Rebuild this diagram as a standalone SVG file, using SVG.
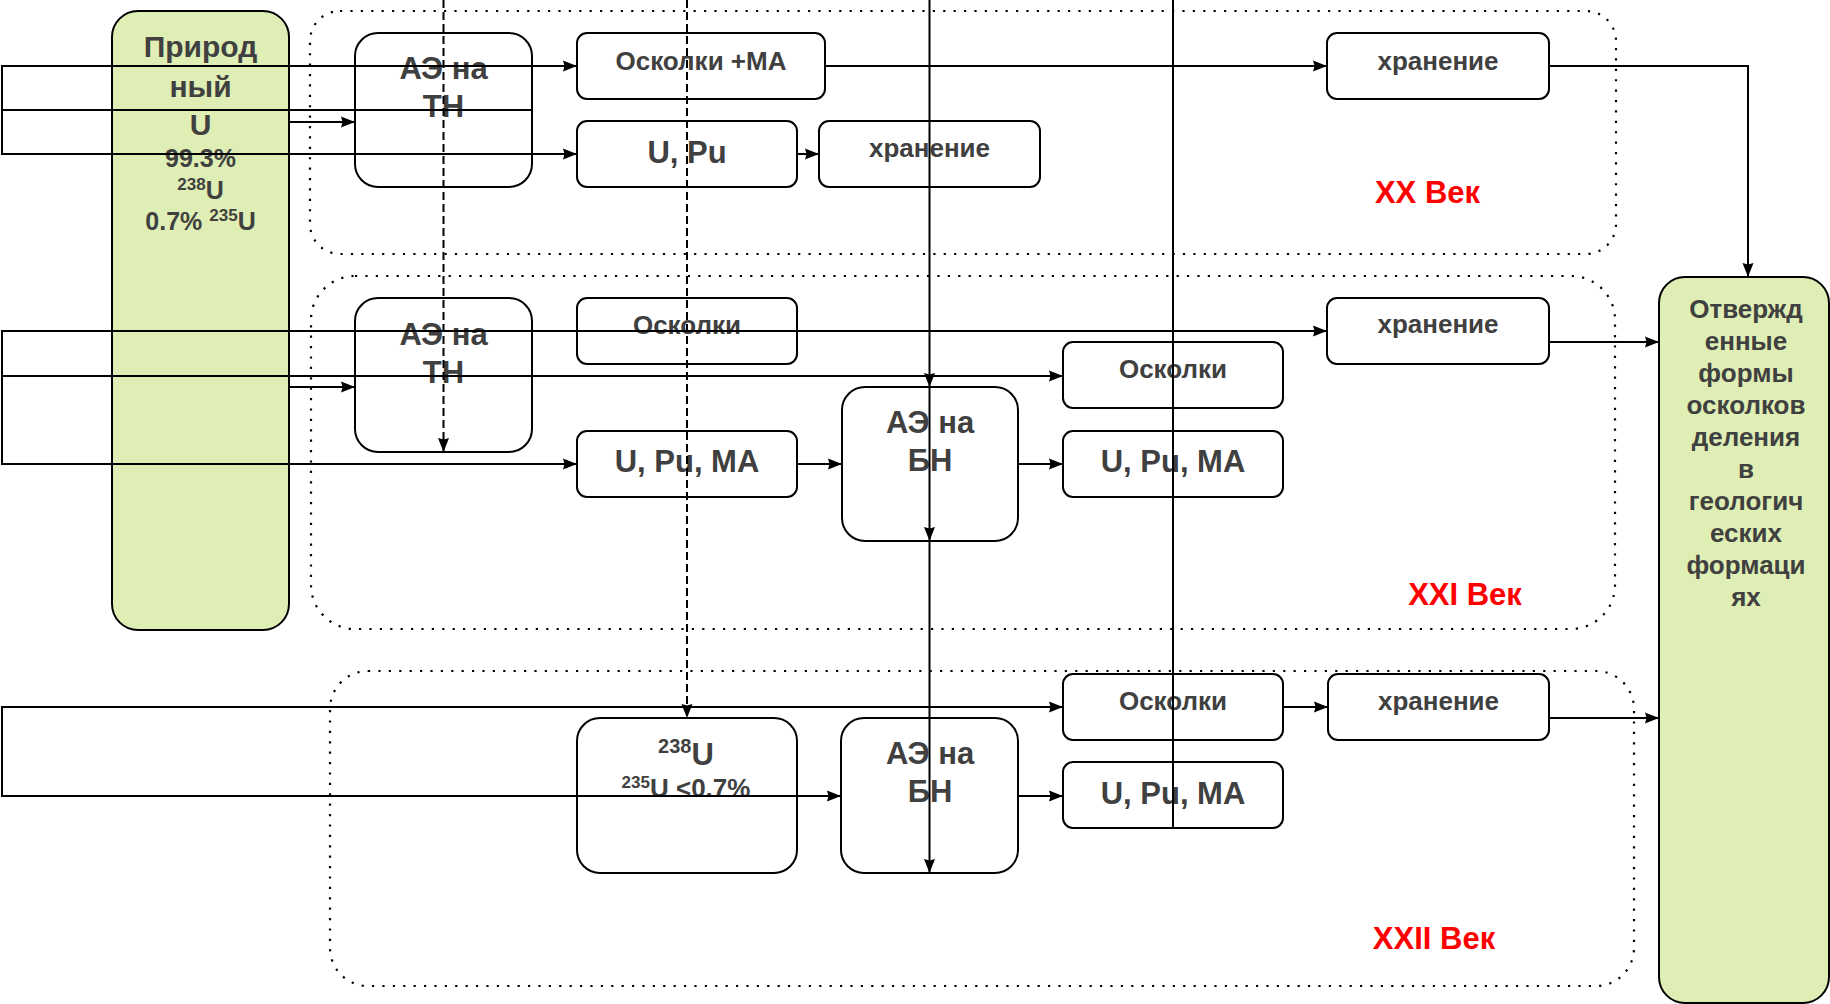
<svg xmlns="http://www.w3.org/2000/svg" width="1830" height="1004" viewBox="0 0 1830 1004">
<defs>
<style>
.bg{fill:#ffffff}
.cont{fill:none;stroke:#000;stroke-width:2.2;stroke-dasharray:2.2 8.2}
.box{fill:#ffffff;stroke:#000;stroke-width:2}
.green{fill:#dfeeb4;stroke:#000;stroke-width:2}
.t{font-family:"Liberation Sans",Arial,sans-serif;font-weight:bold;fill:#404040;text-anchor:middle}
.s26{font-size:26px}
.s31{font-size:31px}
.s30{font-size:30px}
.s25{font-size:25px}
.red{font-family:"Liberation Sans",Arial,sans-serif;font-weight:bold;fill:#ff0000;font-size:31px;text-anchor:middle}
.e{fill:none;stroke:#000;stroke-width:2}
.d{fill:none;stroke:#000;stroke-width:2;stroke-dasharray:8 4}
</style>
<marker id="arr" markerUnits="userSpaceOnUse" markerWidth="15" markerHeight="12" refX="14" refY="5.5" orient="auto" viewBox="0 0 15 11">
<path d="M0,0 L14,5.5 L0,11 L1.5,5.5 Z" fill="#000"/>
</marker>
</defs>
<rect class="bg" x="0" y="0" width="1830" height="1004"/>

<g id="containers">
<rect id="c-xx" class="cont" x="310" y="11" width="1306" height="243" rx="30" ry="30"/>
<rect id="c-xxi" class="cont" x="311" y="276" width="1304" height="353" rx="44" ry="44"/>
<rect id="c-xxii" class="cont" x="330" y="671" width="1304" height="315" rx="38" ry="38"/>
</g>

<g id="n-natural">
<rect class="green" x="112" y="11" width="177" height="619" rx="26" ry="26"/>
<text class="t s30" x="200.5" y="57">Природ</text>
<text class="t s30" x="200.5" y="96.5">ный</text>
<text class="t s30" x="200.5" y="134.5">U</text>
<text class="t s25" x="200.5" y="166.5">99.3%</text>
<text class="t s25" x="200.5" y="199"><tspan font-size="17" dy="-9">238</tspan><tspan dy="9">U</tspan></text>
<text class="t s25" x="200.5" y="230">0.7% <tspan font-size="17" dy="-9">235</tspan><tspan dy="9">U</tspan></text>
</g>

<g id="n-final">
<rect class="green" x="1659" y="277" width="170" height="726" rx="26" ry="26"/>
<text class="t s26" x="1746" y="318">Отвержд</text>
<text class="t s26" x="1746" y="350">енные</text>
<text class="t s26" x="1746" y="382">формы</text>
<text class="t s26" x="1746" y="414">осколков</text>
<text class="t s26" x="1746" y="446">деления</text>
<text class="t s26" x="1746" y="478">в</text>
<text class="t s26" x="1746" y="510">геологич</text>
<text class="t s26" x="1746" y="542">еских</text>
<text class="t s26" x="1746" y="574">формаци</text>
<text class="t s26" x="1746" y="606">ях</text>
</g>

<!-- XX century -->
<g id="n-ae-tn-20">
<rect class="box" x="355" y="33" width="177" height="154" rx="23" ry="23"/>
<text class="t s31" x="443.5" y="79">АЭ на</text>
<text class="t s31" x="443.5" y="117">ТН</text>
</g>
<g id="n-osk-ma-20">
<rect class="box" x="577" y="33" width="248" height="66" rx="10" ry="10"/>
<text class="t s26" x="701" y="70">Осколки +МА</text>
</g>
<g id="n-upu-20">
<rect class="box" x="577" y="121" width="220" height="66" rx="10" ry="10"/>
<text class="t s31" x="687" y="163">U, Pu</text>
</g>
<g id="n-stor-20a">
<rect class="box" x="819" y="121" width="221" height="66" rx="10" ry="10"/>
<text class="t s26" x="929.5" y="157">хранение</text>
</g>
<g id="n-stor-20b">
<rect class="box" x="1327" y="33" width="222" height="66" rx="10" ry="10"/>
<text class="t s26" x="1438" y="70">хранение</text>
</g>
<g id="l-20"><text class="red" x="1427.5" y="203">XX Век</text></g>

<!-- XXI century -->
<g id="n-ae-tn-21">
<rect class="box" x="355" y="298" width="177" height="154" rx="23" ry="23"/>
<text class="t s31" x="443.5" y="345">АЭ на</text>
<text class="t s31" x="443.5" y="383">ТН</text>
</g>
<g id="n-osk-21a">
<rect class="box" x="577" y="298" width="220" height="66" rx="10" ry="10"/>
<text class="t s26" x="687" y="334">Осколки</text>
</g>
<g id="n-stor-21">
<rect class="box" x="1327" y="298" width="222" height="66" rx="10" ry="10"/>
<text class="t s26" x="1438" y="333">хранение</text>
</g>
<g id="n-osk-21b">
<rect class="box" x="1063" y="342" width="220" height="66" rx="10" ry="10"/>
<text class="t s26" x="1173" y="378">Осколки</text>
</g>
<g id="n-ae-bn-21">
<rect class="box" x="842" y="387" width="176" height="154" rx="23" ry="23"/>
<text class="t s31" x="930" y="433">АЭ на</text>
<text class="t s31" x="930" y="471">БН</text>
</g>
<g id="n-upuma-21a">
<rect class="box" x="577" y="431" width="220" height="66" rx="10" ry="10"/>
<text class="t s31" x="687" y="472">U, Pu, MA</text>
</g>
<g id="n-upuma-21b">
<rect class="box" x="1063" y="431" width="220" height="66" rx="10" ry="10"/>
<text class="t s31" x="1173" y="472">U, Pu, MA</text>
</g>
<g id="l-21"><text class="red" x="1465" y="605">XXI Век</text></g>

<!-- XXII century -->
<g id="n-osk-22">
<rect class="box" x="1063" y="674" width="220" height="66" rx="10" ry="10"/>
<text class="t s26" x="1173" y="710">Осколки</text>
</g>
<g id="n-stor-22">
<rect class="box" x="1328" y="674" width="221" height="66" rx="10" ry="10"/>
<text class="t s26" x="1438.5" y="710">хранение</text>
</g>
<g id="n-u238">
<rect class="box" x="577" y="718" width="220" height="155" rx="23" ry="23"/>
<text class="t s31" x="686" y="765"><tspan font-size="20" dy="-12">238</tspan><tspan dy="12">U</tspan></text>
<text class="t s26" x="686" y="797"><tspan font-size="17" dy="-9">235</tspan><tspan dy="9">U &lt;0.7%</tspan></text>
</g>
<g id="n-ae-bn-22">
<rect class="box" x="841" y="718" width="177" height="155" rx="23" ry="23"/>
<text class="t s31" x="930" y="764">АЭ на</text>
<text class="t s31" x="930" y="802">БН</text>
</g>
<g id="n-upuma-22">
<rect class="box" x="1063" y="762" width="220" height="66" rx="10" ry="10"/>
<text class="t s31" x="1173" y="804">U, Pu, MA</text>
</g>
<g id="l-22"><text class="red" x="1434" y="949">XXII Век</text></g>

<g id="connectors">
<!-- XX -->
<path class="e" d="M532,110 H2 V66 H577" marker-end="url(#arr)"/>
<path class="e" d="M532,110 H2 V154 H577" marker-end="url(#arr)"/>
<path class="e" d="M289,122 H355" marker-end="url(#arr)"/>
<path class="e" d="M825,66 H1327" marker-end="url(#arr)"/>
<path class="e" d="M1549,66 H1748 V277" marker-end="url(#arr)"/>
<path class="e" d="M797,154 H819" marker-end="url(#arr)"/>
<!-- XXI -->
<path class="e" d="M2,376 V331 H1327" marker-end="url(#arr)"/>
<path class="e" d="M2,376 H1063" marker-end="url(#arr)"/>
<path class="e" d="M2,376 V464 H577" marker-end="url(#arr)"/>
<path class="e" d="M289,387 H355" marker-end="url(#arr)"/>
<path class="e" d="M797,464 H842" marker-end="url(#arr)"/>
<path class="e" d="M1018,464 H1063" marker-end="url(#arr)"/>
<path class="e" d="M1549,342 H1659" marker-end="url(#arr)"/>
<!-- XXII -->
<path class="e" d="M2,750 V707 H1063" marker-end="url(#arr)"/>
<path class="e" d="M2,750 V796 H841" marker-end="url(#arr)"/>
<path class="e" d="M1283,707 H1328" marker-end="url(#arr)"/>
<path class="e" d="M1549,718 H1659" marker-end="url(#arr)"/>
<path class="e" d="M1018,796 H1063" marker-end="url(#arr)"/>
<!-- verticals -->
<path class="d" d="M443.5,0 V452" marker-end="url(#arr)"/>
<path class="d" d="M687,0 V718" marker-end="url(#arr)"/>
<path class="e" d="M929.5,0 V387" marker-end="url(#arr)"/>
<path class="e" d="M929.5,387 V541" marker-end="url(#arr)"/>
<path class="e" d="M929.5,541 V873" marker-end="url(#arr)"/>
<path class="e" d="M1173,0 V828"/>
</g>
</svg>
